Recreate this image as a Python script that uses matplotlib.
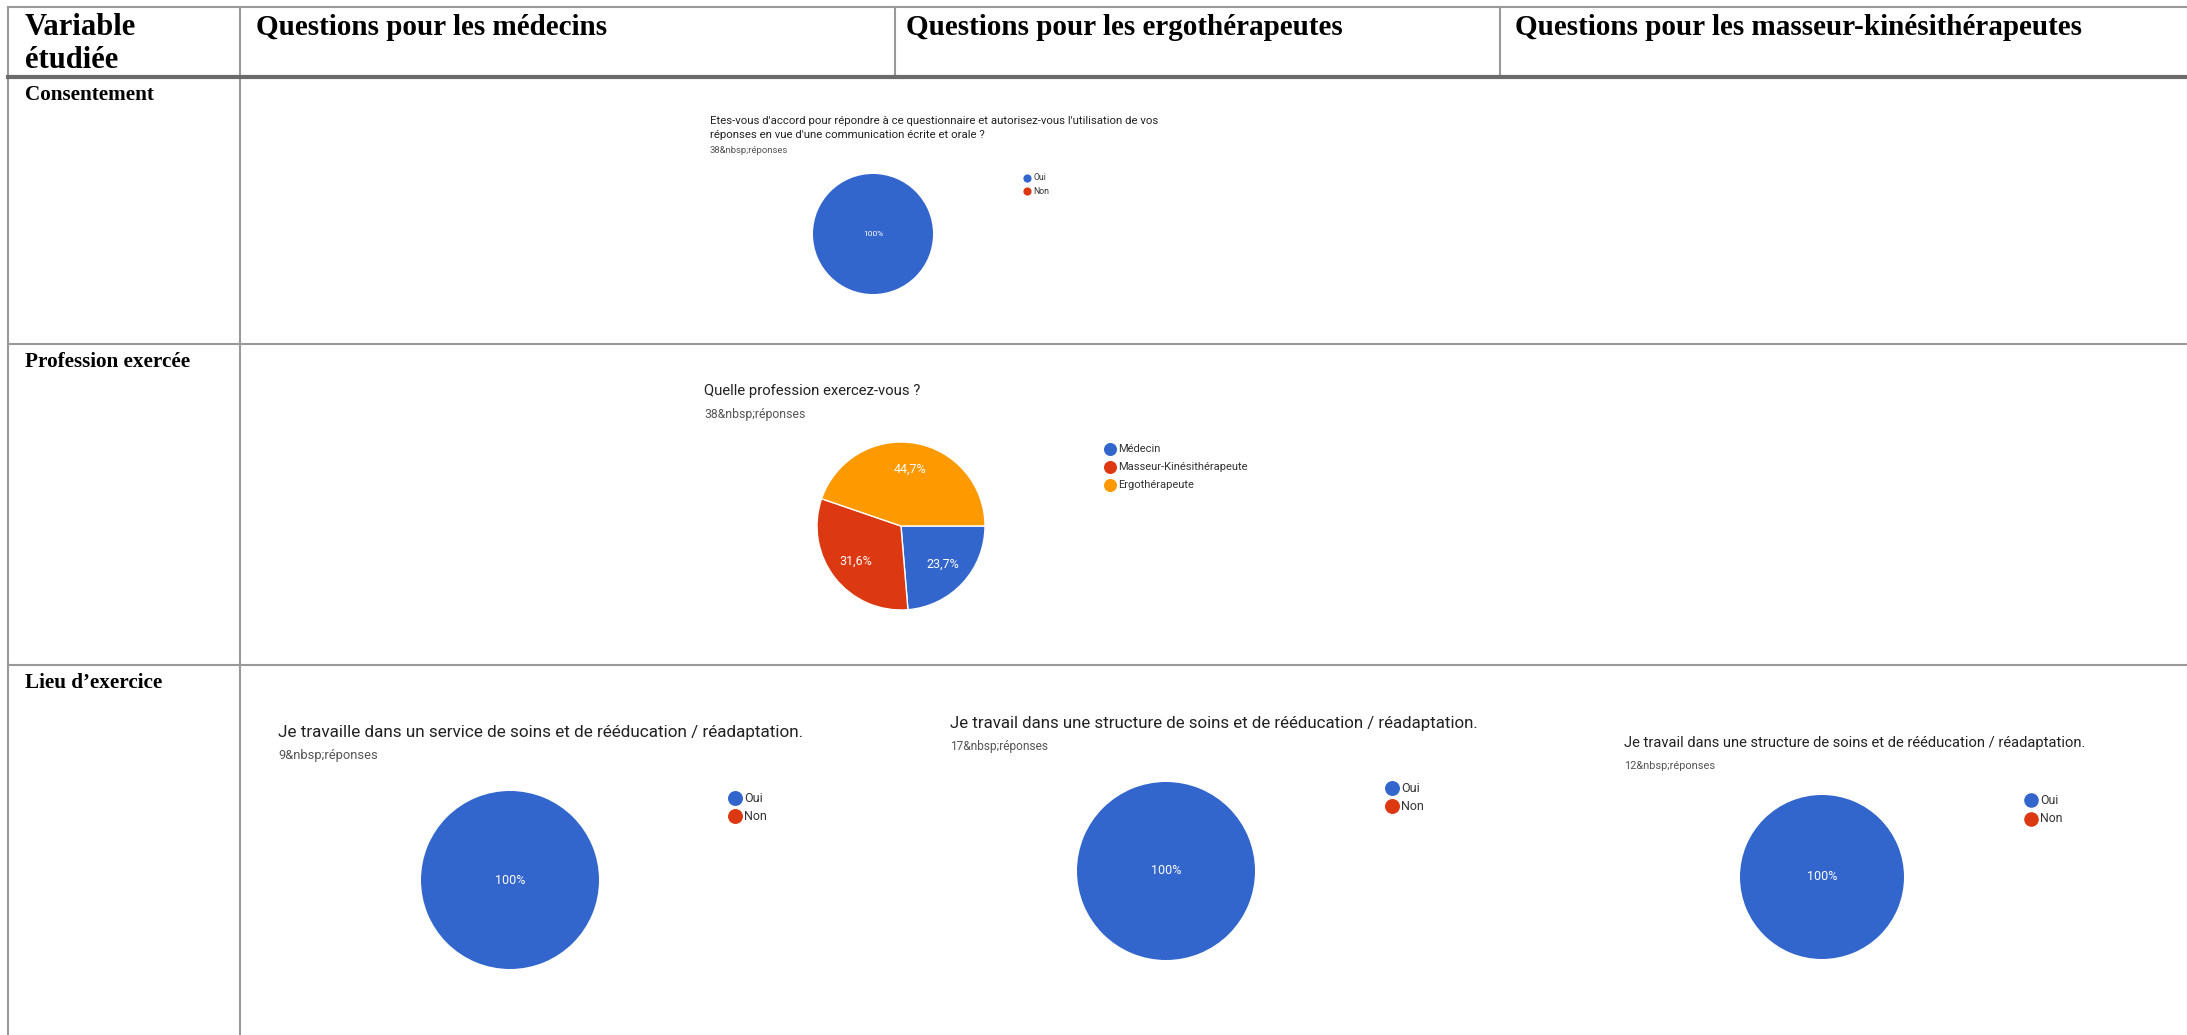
import matplotlib
matplotlib.use('Agg')
import matplotlib.pyplot as plt

W, H = 2187, 1035

# table text
col_headers = ['Variable\nétudiée', 'Questions pour les médecins',
               'Questions pour les ergothérapeutes',
               'Questions pour les masseur-kinésithérapeutes']
row_labels = ['Consentement', 'Profession exercée', 'Lieu d\u2019exercice']

# survey answers (counts)
yes_no = ['Oui', 'Non']
consent_values = [38, 0]
profession_labels = ['Médecin', 'Masseur-Kinésithérapeute', 'Ergothérapeute']
profession_values = [9, 12, 17]
lieu_med_values = [9, 0]
lieu_ergo_values = [17, 0]
lieu_mk_values = [12, 0]

consent_title = ("Etes-vous d'accord pour répondre à ce questionnaire et autorisez-vous l'utilisation de vos\n"
                 "réponses en vue d'une communication écrite et orale ?")
profession_title = 'Quelle profession exercez-vous ?'
lieu_med_title = 'Je travaille dans un service de soins et de rééducation / réadaptation.'
lieu_other_title = 'Je travail dans une structure de soins et de rééducation / réadaptation.'

BLUE, RED, ORANGE = '#3366cc', '#dc3912', '#ff9900'
GRID = '#999999'
SERIF = 'Liberation Serif'
SANS = 'Roboto'

fig = plt.figure(figsize=(W / 100, H / 100), dpi=100)
ax = fig.add_axes([0, 0, 1, 1])
ax.set_xlim(0, W)
ax.set_ylim(H, 0)
ax.axis('off')

# grid lines of the table
ax.plot([8, W], [7, 7], color=GRID, lw=1.5)
ax.plot([8, 8], [7, H], color=GRID, lw=1.5)
ax.plot([240, 240], [7, H], color=GRID, lw=1.5)
ax.plot([895, 895], [7, 77], color=GRID, lw=1.5)
ax.plot([1500, 1500], [7, 77], color=GRID, lw=1.5)
ax.plot([8, W], [77, 77], color='#6b6b6b', lw=3)
ax.plot([8, W], [344, 344], color=GRID, lw=1.5)
ax.plot([8, W], [665, 665], color=GRID, lw=1.5)

# headers
ax.text(25, 35, 'Variable', family=SERIF, weight='bold', fontsize=22, va='baseline')
ax.text(25, 68, 'étudiée', family=SERIF, weight='bold', fontsize=22, va='baseline')
for x, txt in zip([256, 906, 1515], col_headers[1:]):
    ax.text(x, 35, txt, family=SERIF, weight='bold', fontsize=21, va='baseline')
for y, txt in zip([100, 367, 688], row_labels):
    ax.text(25, y, txt, family=SERIF, weight='bold', fontsize=15.2, va='baseline')


def pct_fmt(p):
    if p < 0.05:
        return ''
    if abs(p - 100) < 0.05:
        return '100%'
    return f'{p:.1f}'.replace('.', ',') + '%'


def draw_pie(values, cx, cy, r, pct_size, pctdist=0.0, edge=0):
    pax = fig.add_axes([(cx - r) / W, 1 - (cy + r) / H, 2 * r / W, 2 * r / H])
    colors = [BLUE, RED, ORANGE][:len(values)]
    vals = [v for v in values if v > 0]
    cols = [c for v, c in zip(values, colors) if v > 0]
    pd = pctdist if len(vals) > 1 else 0.0
    _, _, autotexts = pax.pie(vals, colors=cols, startangle=0, counterclock=False,
                              autopct=pct_fmt, pctdistance=pd,
                              wedgeprops=dict(edgecolor='white', linewidth=edge))
    for t in autotexts:
        t.set_color('white')
        t.set_fontsize(pct_size)
        t.set_family(SANS)
    pax.set_xlim(-1, 1)
    pax.set_ylim(-1, 1)
    pax.axis('off')


def draw_legend(labels, x, ys, size, dot):
    for lab, y, c in zip(labels, ys, [BLUE, RED, ORANGE]):
        ax.scatter([x], [y], s=dot, color=c, zorder=3)
        ax.text(x + size * 1.0, y, lab, family=SANS, fontsize=size, va='center',
                color='#333333')


def draw_title(x, y, title, sub, tsize, ssize, gap):
    ax.text(x, y, title, family=SANS, fontsize=tsize, va='bottom', color='#222222',
            linespacing=1.45)
    ax.text(x, y + gap, sub, family=SANS, fontsize=ssize, va='bottom', color='#555555')


# Consentement
draw_title(710, 140, consent_title, '38&nbsp;réponses', 8.2, 6.8, 15)
draw_pie(consent_values, 873, 234, 60, 6)
draw_legend(yes_no, 1027, [178, 191], 6.2, 24)

# Profession exercée
draw_title(704, 398, profession_title, '38&nbsp;réponses', 10.7, 8.8, 23)
draw_pie(profession_values, 901, 526, 84, 9, pctdist=0.68, edge=1)
draw_legend(profession_labels, 1110, [449, 467, 485], 8.0, 70)

# Lieu d'exercice
draw_title(278, 740, lieu_med_title, '9&nbsp;réponses', 12.3, 9.3, 22)
draw_pie(lieu_med_values, 510, 880, 89, 9)
draw_legend(yes_no, 735, [798, 816], 9.0, 95)

draw_title(950, 731, lieu_other_title, '17&nbsp;réponses', 12.2, 8.6, 22)
draw_pie(lieu_ergo_values, 1166, 871, 89, 9)
draw_legend(yes_no, 1392, [788, 806], 9.0, 95)

draw_title(1624, 750, lieu_other_title, '12&nbsp;réponses', 10.6, 7.9, 21)
draw_pie(lieu_mk_values, 1822, 877, 82, 9)
draw_legend(yes_no, 2031, [800, 819], 8.8, 90)

fig.savefig('out.png', dpi=100)
